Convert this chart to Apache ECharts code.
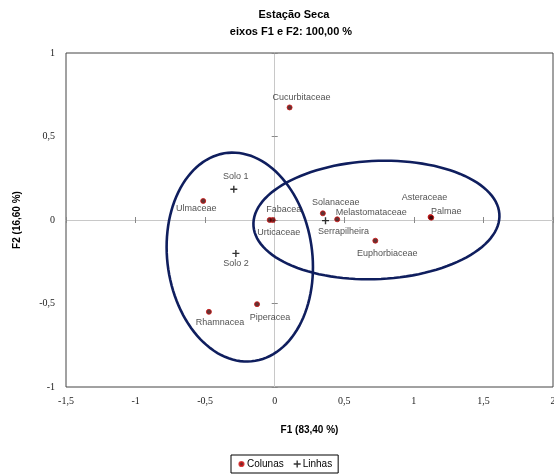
<!DOCTYPE html>
<html>
<head>
<meta charset="utf-8">
<script src="https://cdn.jsdelivr.net/npm/echarts@6/dist/echarts.min.js"></script>
<style>html,body{margin:0;padding:0;background:#fff}#c{width:554px;height:474px}</style>
</head>
<body>
<div id="c"></div>
<script>
// ---- data ----
const colunasNames = ['Cucurbitaceae','Ulmaceae','Fabacea','Urticaceae','Solanaceae','Melastomataceae','Asteraceae','Palmae','Euphorbiaceae','Piperacea','Rhamnacea'];
const colunasF1 = [0.107, -0.514, -0.014, -0.036, 0.346, 0.449, 1.120, 1.125, 0.723, -0.127, -0.473];
const colunasF2 = [0.674, 0.114, 0.000, 0.000, 0.040, 0.004, 0.018, 0.014, -0.124, -0.504, -0.550];

const linhasNames = ['Solo 1','Solo 2','Serrapilheira'];
const linhasF1 = [-0.294, -0.279, 0.365];
const linhasF2 = [0.184, -0.200, -0.004];

const xTicks = [-1.5, -1, -0.5, 0, 0.5, 1, 1.5, 2];
const yTicks = [-1, -0.5, 0, 0.5, 1];

// ellipse annotations (data units): center, conjugate semi-diameters
const ellipseCenters = [[-0.251, -0.222], [0.731, 0.0]];
const ellipseAxisA = [[0.525, -0.025], [0.882, 0.0]];
const ellipseAxisB = [[-0.03, 0.625], [0.06, 0.355]];

// ---- layout (label offsets in px) ----
const labelOffsets = {
  'Cucurbitaceae':[12,-10],'Ulmaceae':[-7,8],'Fabacea':[11,-10],'Urticaceae':[9,13],
  'Solanaceae':[13,-11],'Melastomataceae':[34,-7],'Asteraceae':[-6,-19],'Palmae':[15,-6],
  'Euphorbiaceae':[12,13],'Piperacea':[13,13],'Rhamnacea':[11,11],
  'Solo 1':[2,-13],'Solo 2':[0,10],'Serrapilheira':[18,11]
};

const fmt = v => String(v).replace('.', ',');
const labelFont = {fontFamily:'Liberation Sans', fontSize:9, color:'#262626'};
function pts(names, xs, ys){
  return names.map((n,i)=>({name:n, value:[xs[i], ys[i]],
    label:{show:true, position:'inside', offset:labelOffsets[n]||[0,0], formatter:n, ...labelFont}}));
}
const plusPath = 'path://M4,0H6V4H10V6H6V10H4V6H0V4H4Z';
const dotPath = 'path://M0,0M10,10M5,2A3,3,0,1,1,4.99,2Z';

const chart = echarts.init(document.getElementById('c'), null, {renderer:'canvas'});
const commonX = {type:'value', min:-1.5, max:2, interval:0.5, splitLine:{show:false}};
const commonY = {type:'value', min:-1, max:1, interval:0.5, splitLine:{show:false}};
chart.setOption({
  animation:false,
  backgroundColor:'#fff',
  title:[
    {text:'Estação Seca', left:289, top:4, textAlign:'center',
     textStyle:{fontFamily:'Liberation Sans', fontWeight:'bold', fontSize:11, color:'#000'}},
    {text:'eixos F1 e F2: 100,00 %', left:286, top:21, textAlign:'center',
     textStyle:{fontFamily:'Liberation Sans', fontWeight:'bold', fontSize:11, color:'#000'}}
  ],
  legend:{
    bottom:1, left:231, orient:'horizontal',
    data:[{name:'Colunas', icon:dotPath},{name:'Linhas', icon:plusPath}],
    itemWidth:7, itemHeight:7, itemGap:10,
    borderColor:'#000', borderWidth:1, padding:[4,6,4,6],
    textStyle:{fontFamily:'Liberation Sans', fontSize:10, color:'#000', padding:[0,0,0,-3]}
  },
  grid:{left:66, right:1, top:53, bottom:87, show:true, borderColor:'#444', borderWidth:1,
        backgroundColor:'transparent', containLabel:false, outerBoundsMode:'none'},
  xAxis:[
    {...commonX, position:'bottom', name:'F1 (83,40 %)', nameLocation:'middle', nameGap:38,
     nameTextStyle:{fontFamily:'Liberation Sans', fontWeight:'bold', fontSize:10, color:'#000'},
     axisLine:{show:false}, axisTick:{show:false},
     axisLabel:{formatter:fmt, margin:9, fontFamily:'Liberation Serif', fontSize:10, color:'#222'}},
    {...commonX, position:'top', axisLine:{show:true, onZero:true, lineStyle:{color:'#c8c8c8'}},
     axisTick:{show:true, inside:false, length:3, lineStyle:{color:'#888'}}, axisLabel:{show:false}},
    {...commonX, position:'top', axisLine:{show:false, onZero:true},
     axisTick:{show:true, inside:true, length:3, lineStyle:{color:'#888'}}, axisLabel:{show:false}}
  ],
  yAxis:[
    {...commonY, position:'left', name:'F2 (16,60 %)', nameLocation:'middle', nameGap:44,
     nameTextStyle:{fontFamily:'Liberation Sans', fontWeight:'bold', fontSize:10, color:'#000'},
     axisLine:{show:false}, axisTick:{show:false},
     axisLabel:{formatter:fmt, margin:11, fontFamily:'Liberation Serif', fontSize:10, color:'#222'}},
    {...commonY, position:'right', axisLine:{show:true, onZero:true, lineStyle:{color:'#c8c8c8'}},
     axisTick:{show:true, inside:false, length:3, lineStyle:{color:'#888'}}, axisLabel:{show:false}},
    {...commonY, position:'right', axisLine:{show:false, onZero:true},
     axisTick:{show:true, inside:true, length:3, lineStyle:{color:'#888'}}, axisLabel:{show:false}}
  ],
  series:[
    {type:'custom', name:'ellipses', xAxisIndex:0, yAxisIndex:0, silent:true, z:1,
     data: ellipseCenters.map((c,i)=>[c[0], c[1], i]),
     encode:{x:0, y:1},
     renderItem:function(params, api){
       const i = api.value(2);
       const c = ellipseCenters[i], A = ellipseAxisA[i], B = ellipseAxisB[i];
       const points = [];
       for(let k=0;k<=120;k++){
         const t = k/120*Math.PI*2;
         points.push(api.coord([c[0]+A[0]*Math.cos(t)+B[0]*Math.sin(t), c[1]+A[1]*Math.cos(t)+B[1]*Math.sin(t)]));
       }
       return {type:'polygon', shape:{points}, style:{fill:'none', stroke:'#0f1e5e', lineWidth:2.6}};
     }},
    {type:'scatter', name:'Colunas', xAxisIndex:0, yAxisIndex:0, z:3, symbol:'circle', symbolSize:5,
     itemStyle:{color:'#3a0000', borderColor:'#d01010', borderWidth:1},
     data: pts(colunasNames, colunasF1, colunasF2)},
    {type:'scatter', name:'Linhas', xAxisIndex:0, yAxisIndex:0, z:3, symbol:plusPath, symbolSize:7,
     itemStyle:{color:'#000'},
     data: pts(linhasNames, linhasF1, linhasF2)}
  ]
});
</script>
</body>
</html>
